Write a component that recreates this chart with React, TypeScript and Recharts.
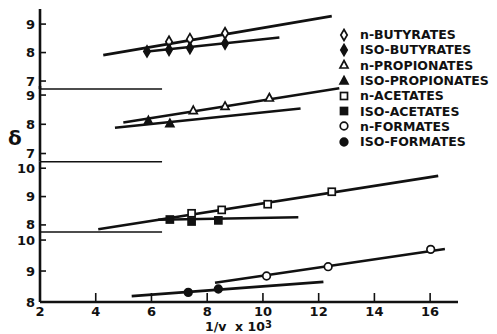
import React from 'react';
import {
  ComposedChart,
  Line,
  Scatter,
  XAxis,
  YAxis,
  ReferenceLine,
} from 'recharts';

type Pt = { x: number; y: number };
type Kind = 'diamond' | 'triangle' | 'square' | 'circle';

// x axis (1/v x 10^3)
const xTicks = [2, 4, 6, 8, 10, 12, 14, 16];

// butyrates
const nButyratesPts: Pt[] = [{ x: 6.63, y: 8.38 }, { x: 7.38, y: 8.47 }, { x: 8.64, y: 8.68 }];
const nButyratesFit: Pt[] = [{ x: 4.27, y: 7.91 }, { x: 12.47, y: 9.28 }];
const isoButyratesPts: Pt[] = [{ x: 5.84, y: 8.04 }, { x: 6.63, y: 8.1 }, { x: 7.38, y: 8.16 }, { x: 8.64, y: 8.32 }];
const isoButyratesFit: Pt[] = [{ x: 5.77, y: 8.03 }, { x: 10.59, y: 8.53 }];

// propionates
const nPropionatesPts: Pt[] = [{ x: 7.5, y: 8.47 }, { x: 8.64, y: 8.61 }, { x: 10.23, y: 8.9 }];
const nPropionatesFit: Pt[] = [{ x: 4.99, y: 8.06 }, { x: 12.74, y: 9.23 }];
const isoPropionatesPts: Pt[] = [{ x: 5.89, y: 8.12 }, { x: 6.66, y: 8.02 }];
const isoPropionatesFit: Pt[] = [{ x: 4.69, y: 7.88 }, { x: 11.35, y: 8.54 }];

// acetates
const nAcetatesPts: Pt[] = [{ x: 7.44, y: 8.41 }, { x: 8.52, y: 8.53 }, { x: 10.17, y: 8.73 }, { x: 12.47, y: 9.17 }];
const nAcetatesFit: Pt[] = [{ x: 4.09, y: 7.85 }, { x: 16.29, y: 9.73 }];
const isoAcetatesPts: Pt[] = [{ x: 6.66, y: 8.19 }, { x: 7.44, y: 8.12 }, { x: 8.4, y: 8.16 }];
const isoAcetatesFit: Pt[] = [{ x: 6.24, y: 8.18 }, { x: 11.27, y: 8.27 }];

// formates
const nFormatesPts: Pt[] = [{ x: 10.13, y: 8.84 }, { x: 12.34, y: 9.14 }, { x: 16.02, y: 9.7 }];
const nFormatesFit: Pt[] = [{ x: 8.28, y: 8.62 }, { x: 16.53, y: 9.71 }];
const isoFormatesPts: Pt[] = [{ x: 7.32, y: 8.31 }, { x: 8.4, y: 8.42 }];
const isoFormatesFit: Pt[] = [{ x: 5.29, y: 8.19 }, { x: 12.17, y: 8.65 }];

const W = 497;
const H = 334;
const PLOT_LEFT = 40;
const PLOT_RIGHT = 458;
const Y_AXIS_W = 30;
const X_AXIS_H = 28;
const INK = '#111';
const FONT = '"DejaVu Sans", Arial, sans-serif';

interface Series {
  name: string;
  kind: Kind;
  filled: boolean;
  pts: Pt[];
  fit: Pt[];
}

interface Panel {
  top: number;
  bottom: number;
  domain: [number, number];
  ticks: number[];
  breakAt?: number;
  series: Series[];
}

const panels: Panel[] = [
  {
    top: 9, bottom: 89, domain: [6.72, 9.53], ticks: [7, 8, 9], breakAt: 6.72,
    series: [
      { name: 'n-BUTYRATES', kind: 'diamond', filled: false, pts: nButyratesPts, fit: nButyratesFit },
      { name: 'ISO-BUTYRATES', kind: 'diamond', filled: true, pts: isoButyratesPts, fit: isoButyratesFit },
    ],
  },
  {
    top: 86, bottom: 161.7, domain: [6.72, 9.31], ticks: [7, 8, 9], breakAt: 6.72,
    series: [
      { name: 'n-PROPIONATES', kind: 'triangle', filled: false, pts: nPropionatesPts, fit: nPropionatesFit },
      { name: 'ISO-PROPIONATES', kind: 'triangle', filled: true, pts: isoPropionatesPts, fit: isoPropionatesFit },
    ],
  },
  {
    top: 161.7, bottom: 232, domain: [7.75, 10.23], ticks: [8, 9, 10], breakAt: 7.75,
    series: [
      { name: 'n-ACETATES', kind: 'square', filled: false, pts: nAcetatesPts, fit: nAcetatesFit },
      { name: 'ISO-ACETATES', kind: 'square', filled: true, pts: isoAcetatesPts, fit: isoAcetatesFit },
    ],
  },
  {
    top: 232, bottom: 302, domain: [8, 10.26], ticks: [8, 9, 10],
    series: [
      { name: 'n-FORMATES', kind: 'circle', filled: false, pts: nFormatesPts, fit: nFormatesFit },
      { name: 'ISO-FORMATES', kind: 'circle', filled: true, pts: isoFormatesPts, fit: isoFormatesFit },
    ],
  },
];

const Marker = ({ cx, cy, kind, filled }: { cx: number; cy: number; kind: Kind; filled: boolean }) => {
  const fill = filled ? INK : '#fff';
  const common = { fill, stroke: INK, strokeWidth: 1.7 };
  if (kind === 'diamond')
    return <polygon points={`${cx},${cy - 5.5} ${cx + 3.2},${cy} ${cx},${cy + 5.5} ${cx - 3.2},${cy}`} {...common} />;
  if (kind === 'triangle')
    return <polygon points={`${cx},${cy - 4.5} ${cx + 4},${cy + 3} ${cx - 4},${cy + 3}`} {...common} />;
  if (kind === 'square') return <rect x={cx - 3.5} y={cy - 3.5} width={7} height={7} {...common} />;
  return <circle cx={cx} cy={cy} r={3.8} {...common} />;
};

const YTick = (props: any) => {
  const { x, y, payload } = props;
  return (
    <g>
      <line x1={x} x2={x + 6} y1={y} y2={y} stroke={INK} strokeWidth={1.6} />
      <text x={x - 5} y={y + 4.5} textAnchor="end" fontSize={13} fontWeight="bold" fontFamily={FONT} fill={INK}>
        {payload.value}
      </text>
    </g>
  );
};

const XTick = (props: any) => {
  const { x, y, payload } = props;
  return (
    <g>
      <line x1={x} x2={x} y1={y} y2={y - 9} stroke={INK} strokeWidth={1.6} />
      <text x={x} y={y + 14} textAnchor="middle" fontSize={13} fontWeight="bold" fontFamily={FONT} fill={INK}>
        {payload.value}
      </text>
    </g>
  );
};

const PanelChart = ({ p, isBottom }: { p: Panel; isBottom: boolean }) => (
  <div style={{ position: 'absolute', left: 0, top: 0 }}>
    <ComposedChart
      width={W}
      height={H}
      margin={{
        top: p.top,
        bottom: H - p.bottom - (isBottom ? X_AXIS_H : 0),
        left: PLOT_LEFT - Y_AXIS_W,
        right: W - PLOT_RIGHT,
      }}
    >
      <XAxis
        type="number"
        dataKey="x"
        domain={[2, 17]}
        ticks={xTicks}
        hide={!isBottom}
        height={X_AXIS_H}
        tickSize={0}
        tickMargin={0}
        tickLine={false}
        tick={<XTick />}
        axisLine={{ stroke: INK, strokeWidth: 2.6 }}
      />
      <YAxis
        type="number"
        dataKey="y"
        domain={p.domain}
        ticks={p.ticks}
        width={Y_AXIS_W}
        tickSize={0}
        tickMargin={0}
        tickLine={false}
        tick={<YTick />}
        axisLine={{ stroke: INK, strokeWidth: 2.6 }}
      />
      {p.breakAt !== undefined && (
        <ReferenceLine
          segment={[{ x: 2, y: p.breakAt }, { x: 6.38, y: p.breakAt }]}
          stroke={INK}
          strokeWidth={1.6}
          ifOverflow="visible"
        />
      )}
      {p.series.map((s) => (
        <Line
          key={s.name + '-fit'}
          data={s.fit}
          dataKey="y"
          stroke={INK}
          strokeWidth={2.6}
          dot={false}
          isAnimationActive={false}
        />
      ))}
      {p.series.map((s) => (
        <Scatter
          key={s.name}
          data={s.pts}
          dataKey="y"
          isAnimationActive={false}
          shape={(sp: any) => <Marker cx={sp.cx} cy={sp.cy} kind={s.kind} filled={s.filled} />}
        />
      ))}
    </ComposedChart>
  </div>
);

const allSeries = panels.flatMap((p) => p.series);

export default function App() {
  return (
    <div style={{ position: 'absolute', left: 0, top: 0, width: W, height: H, background: '#fff', overflow: 'hidden' }}>
      {panels.map((p, i) => (
        <PanelChart key={i} p={p} isBottom={i === panels.length - 1} />
      ))}
      <div style={{ position: 'absolute', left: 8, top: 126, fontSize: 20, fontFamily: FONT, fontWeight: 'bold', color: INK }}>
        δ
      </div>
      <div style={{ position: 'absolute', left: 205, top: 319, fontSize: 12.5, lineHeight: '15px', fontFamily: FONT, fontWeight: 'bold', color: INK, whiteSpace: 'nowrap' }}>
        1/v&nbsp;&nbsp;x 10
        <span style={{ position: 'relative', top: -3, fontSize: 10 }}>3</span>
      </div>
      <div style={{ position: 'absolute', left: 337, top: 27, fontFamily: FONT, fontWeight: 'bold', fontSize: 12.5, color: INK }}>
        {allSeries.map((s) => (
          <div key={s.name} style={{ height: 15.3, display: 'flex', alignItems: 'center', whiteSpace: 'nowrap' }}>
            <svg width={16} height={14} style={{ marginRight: 7 }}>
              <Marker cx={7} cy={7} kind={s.kind} filled={s.filled} />
            </svg>
            <span>{s.name}</span>
          </div>
        ))}
      </div>
    </div>
  );
}
